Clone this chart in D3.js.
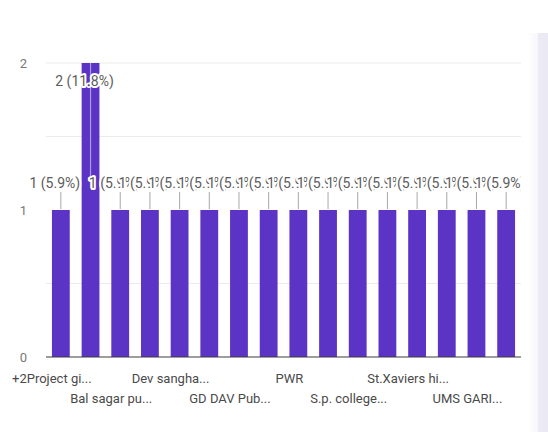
<!DOCTYPE html>
<html>
<head>
<meta charset="utf-8">
<script src="https://cdn.jsdelivr.net/npm/d3@7"></script>
<style>
  html, body { margin: 0; padding: 0; background: #ffffff; }
  svg { display: block; font-family: Roboto, "Noto Sans", Arial, sans-serif; }
</style>
</head>
<body>
<svg id="chart" width="548" height="432"></svg>
<script>
// Responses per school (alphabetical, as listed by the form summary)
const categories = [
  "+2Project girls high school", "Adarsh vidyalaya", "Bal sagar public school",
  "DAV public school", "Dev sangha high school", "Don Bosco school",
  "GD DAV Public school", "Kendriya vidyalaya", "PWR", "Ramakrishna mission",
  "S.p. college of education", "Saraswati shishu mandir", "St.Xaviers high school",
  "Town high school", "UMS GARIA", "Zila school"
];
const responses = [1, 2, 1, 1, 1, 1, 1, 1, 1, 1, 1, 1, 1, 1, 1, 1];

// Axis text
const yTicks = [0, 1, 2];
const gridValues = [0.5, 1.5, 2];
const tickLabels = [
  "+2Project gi...", "Bal sagar pu...", "Dev sangha...", "GD DAV Pub...",
  "PWR", "S.p. college...", "St.Xaviers hi...", "UMS GARI..."
];
const tickEvery = 2;

const total = d3.sum(responses);
const pct = d3.format(".1f");

const svg = d3.select("#chart");
const plot = { left: 46, right: 521, top: 63, bottom: 357 };
const barColor = "#5b34c6";
const noteShift = -6;
const tickShift = -9;

// Page panel edge on the right
const defs = svg.append("defs");
const edge = defs.append("linearGradient").attr("id", "edge").attr("x1", 0).attr("x2", 1).attr("y1", 0).attr("y2", 0);
edge.append("stop").attr("offset", 0).attr("stop-color", "#ffffff");
edge.append("stop").attr("offset", 0.48).attr("stop-color", "#f7f6fa");
edge.append("stop").attr("offset", 0.5).attr("stop-color", "#eceaf5");
edge.append("stop").attr("offset", 1).attr("stop-color", "#ebe9f4");
svg.append("rect").attr("x", 528).attr("y", 33).attr("width", 20).attr("height", 399).attr("fill", "url(#edge)");

defs.append("clipPath").attr("id", "plotClip")
  .append("rect").attr("x", 0).attr("y", 0).attr("width", plot.right).attr("height", 432);

const x = d3.scaleBand().domain(categories).range([plot.left, plot.right])
  .paddingInner(0.4).paddingOuter(0.2);
const y = d3.scaleLinear().domain([0, 2]).range([plot.bottom, plot.top]);

// Gridlines
svg.append("g").selectAll("line").data(gridValues).join("line")
  .attr("x1", plot.left).attr("x2", plot.right)
  .attr("y1", d => y(d)).attr("y2", d => y(d))
  .attr("stroke", "#ebebeb").attr("stroke-width", 1);

// Y axis
const yAxis = d3.axisLeft(y).tickValues(yTicks).tickFormat(d3.format("d")).tickSize(0).tickPadding(19);
const gy = svg.append("g").attr("transform", `translate(${plot.left},0)`).call(yAxis);
gy.select(".domain").remove();
gy.attr("font-family", null).attr("font-size", null);
gy.selectAll("text").attr("font-size", 13).attr("fill", "#777777");

// Bars
svg.append("g").selectAll("rect").data(responses).join("rect")
  .attr("x", (d, i) => x(categories[i]))
  .attr("y", d => y(d))
  .attr("width", x.bandwidth())
  .attr("height", d => y(0) - y(d))
  .attr("fill", barColor);

// Baseline
svg.append("line")
  .attr("x1", plot.left).attr("x2", plot.right)
  .attr("y1", y(0)).attr("y2", y(0))
  .attr("stroke", "#3c3c3c").attr("stroke-width", 1.2);

// Value annotations, drawn in order so each one overlaps the previous
const notes = svg.append("g").attr("clip-path", "url(#plotClip)");
responses.forEach((v, i) => {
  const cx = x(categories[i]) + x.bandwidth() / 2;
  const inside = y(v) - 40 < plot.top;
  const g = notes.append("g");
  if (inside) {
    g.append("line")
      .attr("x1", cx).attr("x2", cx)
      .attr("y1", y(v)).attr("y2", y(1) - 22)
      .attr("stroke", "#ffffff").attr("stroke-opacity", 0.5).attr("stroke-width", 1.2);
  } else {
    g.append("line")
      .attr("x1", cx).attr("x2", cx)
      .attr("y1", y(v) - 1).attr("y2", y(v) - 18)
      .attr("stroke", "#a8a8a8").attr("stroke-width", 1);
  }
  const t = g.append("text")
    .attr("y", inside ? y(v) + 23 : y(v) - 22)
    .attr("font-size", 14)
    .attr("fill", "#5c5c5c")
    .attr("stroke", "#ffffff").attr("stroke-width", 4)
    .attr("stroke-linejoin", "round")
    .attr("paint-order", "stroke")
    .text(`${v} (${pct(v / total * 100)}%)`);
  const w = t.node().getComputedTextLength();
  t.attr("x", cx - w / 2 + noteShift);
});

// Category labels, every other category on alternating rows
const gx = svg.append("g");
tickLabels.forEach((label, k) => {
  const i = k * tickEvery;
  const cx = x(categories[i]) + x.bandwidth() / 2 + tickShift;
  const t = gx.append("text")
    .attr("y", 383 + (k % 2) * 20)
    .attr("font-size", 13)
    .attr("fill", "#4a4a4a")
    .text(label);
  const w = t.node().getComputedTextLength();
  t.attr("x", Math.max(2, cx - w / 2));
});
</script>
</body>
</html>
